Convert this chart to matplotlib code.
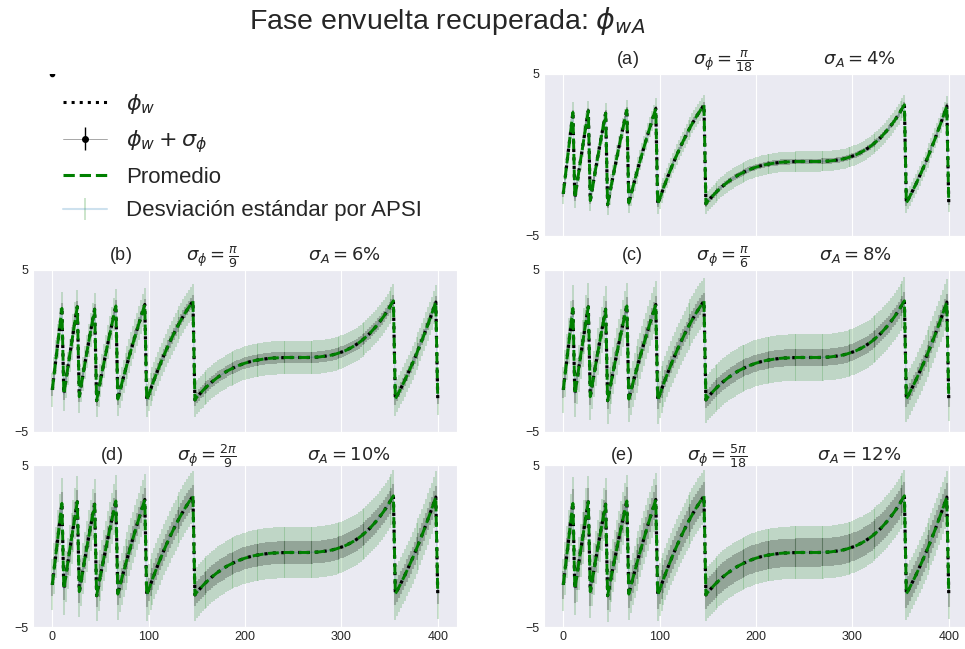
import numpy as np
import matplotlib.pyplot as plt
import seaborn as sns
from matplotlib.lines import Line2D

sns.set_style('darkgrid')
plt.rcParams['font.family'] = ['Liberation Sans', 'DejaVu Sans']
plt.rcParams['mathtext.fontset'] = 'dejavusans'

# sample positions and the wrapped phase phi_w (rad), one value every 2 samples
x = np.arange(0, 401, 2)
phi_w = [
    -2.40, -1.39, -0.38, 0.62, 1.62, 2.63, -2.66, -1.86, -1.07, -0.29,
    0.48, 1.24, 1.99, 2.73, -2.82, -2.11, -1.41, -0.72, -0.04, 0.63,
    1.29, 1.94, 2.58, -3.07, -2.44, -1.82, -1.21, -0.61, -0.02, 0.56,
    1.13, 1.69, 2.24, 2.78, -2.97, -2.50, -2.04, -1.59, -1.15, -0.72,
    -0.30, 0.12, 0.53, 0.93, 1.33, 1.72, 2.11, 2.49, 2.87, -3.04,
    -2.70, -2.37, -2.04, -1.72, -1.41, -1.11, -0.81, -0.52, -0.24, 0.03,
    0.30, 0.56, 0.81, 1.05, 1.29, 1.52, 1.74, 1.95, 2.16, 2.36,
    2.55, 2.73, 2.91, 3.08, -3.02, -2.85, -2.72, -2.58, -2.46, -2.33,
    -2.22, -2.11, -2.00, -1.89, -1.80, -1.70, -1.61, -1.53, -1.45, -1.37,
    -1.29, -1.22, -1.16, -1.10, -1.04, -0.98, -0.93, -0.88, -0.84, -0.79,
    -0.75, -0.72, -0.68, -0.65, -0.62, -0.59, -0.57, -0.55, -0.53, -0.51,
    -0.49, -0.48, -0.46, -0.45, -0.44, -0.43, -0.43, -0.42, -0.41, -0.41,
    -0.41, -0.40, -0.40, -0.40, -0.40, -0.40, -0.40, -0.40, -0.40, -0.40,
    -0.40, -0.40, -0.40, -0.40, -0.39, -0.39, -0.38, -0.38, -0.37, -0.36,
    -0.34, -0.33, -0.31, -0.29, -0.27, -0.25, -0.22, -0.19, -0.15, -0.11,
    -0.07, -0.03, 0.02, 0.08, 0.14, 0.20, 0.27, 0.34, 0.42, 0.50,
    0.59, 0.69, 0.79, 0.89, 1.00, 1.12, 1.25, 1.38, 1.52, 1.66,
    1.82, 1.98, 2.14, 2.32, 2.50, 2.70, 2.89, 3.10, -2.96, -2.74,
    -2.51, -2.27, -2.03, -1.79, -1.53, -1.27, -1.01, -0.74, -0.46, -0.17,
    0.12, 0.42, 0.72, 1.03, 1.35, 1.67, 2.00, 2.33, 2.67, 3.02,
    -2.91,
]

panel_tags = ['(a)', '(b)', '(c)', '(d)', '(e)']
sigma_phi_tex = [r'\frac{\pi}{18}', r'\frac{\pi}{9}', r'\frac{\pi}{6}',
                 r'\frac{2\pi}{9}', r'\frac{5\pi}{18}']
sigma_phi = [np.pi / 18, np.pi / 9, np.pi / 6, 2 * np.pi / 9, 5 * np.pi / 18]
sigma_amp = [4, 6, 8, 10, 12]          # %
apsi_std = [0.62, 1.03, 1.44, 1.58, 1.62]
x_ticks = [0, 100, 200, 300, 400]

W, H = 965, 649
fig = plt.figure(figsize=(W / 100, H / 100), dpi=100)

# panel boxes in pixels: left, top (right column runs past the figure edge)
ax_w, ax_h = 424, 162
boxes = [(544, 74), (33, 270), (544, 270), (33, 465), (544, 465)]

for i, (left, top) in enumerate(boxes):
    ax = fig.add_axes([left / W, 1 - (top + ax_h) / H, ax_w / W, ax_h / H])
    phi = np.array(phi_w)
    ax.errorbar(x, phi, yerr=apsi_std[i], fmt='-', color='C0', ecolor='g',
                elinewidth=1.3, lw=1, alpha=0.2, zorder=2)
    ax.errorbar(x, phi, yerr=sigma_phi[i], fmt='none', ecolor='k',
                elinewidth=1.5, alpha=0.22, zorder=2.5)
    ax.plot(x, phi, ':', color='k', lw=2.3, zorder=3)
    ax.plot(x, phi, '--', color='g', lw=2.1, zorder=4)

    ax.set_xlim(-20, 420)
    ax.set_ylim(-5, 5)
    ax.set_yticks([-5, 5])
    ax.set_xticks(x_ticks)
    ax.tick_params(labelsize=9, length=0, pad=3)
    if i < 3:
        ax.tick_params(labelbottom=False)
    title = (panel_tags[i] + ' ' * 11 + r'$\sigma_\phi = ' + sigma_phi_tex[i] + '$'
             + ' ' * 14 + r'$\sigma_A = ' + str(sigma_amp[i]) + r'\%$')
    ax.set_title(title, fontsize=13, pad=3)

# legend panel in the top-left corner
leg_ax = fig.add_axes([0.0, 1 - 230 / H, 0.5, 156 / H])
leg_ax.set_xlim(0, 1)
leg_ax.set_ylim(0, 1)
leg_ax.axis('off')
leg_ax.plot([0.108], [1.0], '.', color='k', ms=6, clip_on=True)

h_true = Line2D([], [], color='k', ls=':', lw=2.2)
h_sig = leg_ax.errorbar([np.nan], [np.nan], yerr=[0.1], fmt='.-', color='0.6',
                        mfc='k', mec='k', ms=8, ecolor='k', lw=0.6, elinewidth=1)
h_mean = Line2D([], [], color='g', ls='--', lw=2.2)
h_apsi = leg_ax.errorbar([np.nan], [np.nan], yerr=[0.1], fmt='-', color='C0',
                         ecolor='g', lw=1.5, elinewidth=1.3, alpha=0.22)
leg_ax.legend([h_true, h_sig, h_mean, h_apsi],
              [r'$\phi_w$', r'$\phi_w + \sigma_\phi$', 'Promedio',
               'Desviación estándar por APSI'],
              loc='upper left', bbox_to_anchor=(0.056, 0.872),
              bbox_transform=fig.transFigure, frameon=False, fontsize=16,
              handlelength=2.0, handletextpad=0.85, labelspacing=0.55,
              borderaxespad=0)

fig.text(0.463, 0.992, r'Fase envuelta recuperada: $\phi_{wA}$',
         ha='center', va='top', fontsize=20.5, color='0.15')

fig.savefig('out.png', dpi=100)
